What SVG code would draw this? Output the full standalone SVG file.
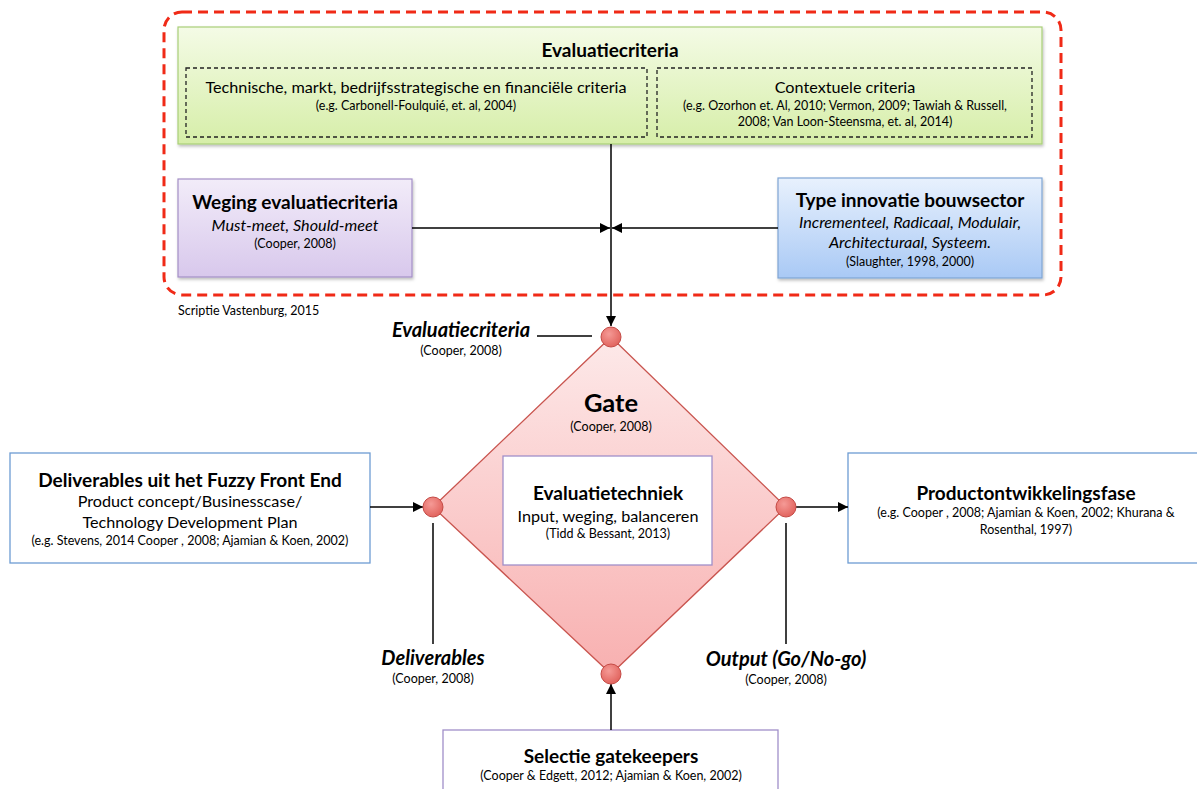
<svg xmlns="http://www.w3.org/2000/svg" width="1197" height="789" viewBox="0 0 1197 789">
<style>
text{font-family:Lato,"Open Sans","Liberation Sans",sans-serif;fill:#000;text-anchor:middle}
.b{font-weight:bold}
.i{font-style:italic}
.t{font-size:19px;font-weight:bold}
.L{font-size:20px;font-weight:bold;font-style:italic}
.m{font-size:16.2px}
.s{font-size:12.5px}
.ln{stroke:#000;stroke-width:1.5;fill:none}
.dash{fill:none;stroke:#222;stroke-width:1.3;stroke-dasharray:4 3}
.dot{stroke:#c44a45;stroke-width:1;fill:url(#gDot)}
</style>
<defs>
<linearGradient id="gGreen" x1="0" y1="0" x2="0" y2="1"><stop offset="0" stop-color="#f4fbe6"/><stop offset="1" stop-color="#d6eea8"/></linearGradient>
<linearGradient id="gPurple" x1="0" y1="0" x2="0" y2="1"><stop offset="0" stop-color="#f2ecf9"/><stop offset="1" stop-color="#d8c8ec"/></linearGradient>
<linearGradient id="gBlue" x1="0" y1="0" x2="0" y2="1"><stop offset="0" stop-color="#e8f1fd"/><stop offset="1" stop-color="#a9c9f5"/></linearGradient>
<linearGradient id="gDia" x1="0" y1="0" x2="0" y2="1"><stop offset="0" stop-color="#fde9e9"/><stop offset="1" stop-color="#f8b0b0"/></linearGradient>
<radialGradient id="gDot" cx="0.4" cy="0.35" r="0.7"><stop offset="0" stop-color="#f59a96"/><stop offset="1" stop-color="#e0605a"/></radialGradient>
<filter id="sh" x="-5%" y="-5%" width="110%" height="120%"><feDropShadow dx="1" dy="2" stdDeviation="1.5" flood-color="#000" flood-opacity="0.25"/></filter>
<marker id="ar" viewBox="0 0 10 10" refX="10" refY="5" markerWidth="10" markerHeight="10" markerUnits="userSpaceOnUse" orient="auto"><path d="M0,0 L10,5 L0,10 z" fill="#000"/></marker>
</defs>

<rect x="164" y="12" width="897" height="283" rx="18" ry="18" fill="none" stroke="#f02a17" stroke-width="3" stroke-dasharray="10 6"/>
<text class="s" x="178" y="315" style="text-anchor:start">Scriptie Vastenburg, 2015</text>

<g id="evaluatiecriteria">
<rect x="178" y="27" width="864" height="117" fill="url(#gGreen)" stroke="#a9cf79" stroke-width="1.2" filter="url(#sh)"/>
<text class="t" x="610" y="57">Evaluatiecriteria</text>
</g>
<g id="technische">
<rect class="dash" x="186" y="68" width="461" height="69"/>
<text class="m" x="416" y="93">Technische, markt, bedrijfsstrategische en financiële criteria</text>
<text class="s" x="416" y="110">(e.g. Carbonell-Foulquié, et. al, 2004)</text>
</g>
<g id="contextuele">
<rect class="dash" x="657" y="68" width="375" height="69"/>
<text class="m" x="845" y="93">Contextuele criteria</text>
<text class="s" x="845" y="110">(e.g. Ozorhon et. Al, 2010; Vermon, 2009; Tawiah &amp; Russell,</text>
<text class="s" x="845" y="126">2008; Van Loon-Steensma, et. al, 2014)</text>
</g>
<g id="weging">
<rect x="178" y="179" width="234" height="98" fill="url(#gPurple)" stroke="#a48fc6" stroke-width="1.2" filter="url(#sh)"/>
<text class="t" x="295" y="209">Weging evaluatiecriteria</text>
<text class="m i" x="295" y="231">Must-meet, Should-meet</text>
<text class="s" x="295" y="248">(Cooper, 2008)</text>
</g>
<g id="type">
<rect x="778" y="178" width="264" height="100" fill="url(#gBlue)" stroke="#7fa5d4" stroke-width="1.2" filter="url(#sh)"/>
<text class="t" x="910" y="207">Type innovatie bouwsector</text>
<text class="m i" x="910" y="228">Incrementeel, Radicaal, Modulair,</text>
<text class="m i" x="910" y="248">Architecturaal, Systeem.</text>
<text class="s" x="910" y="266">(Slaughter, 1998, 2000)</text>
</g>

<g id="gate">
<polygon points="611,337 786,507 611,674 433,507" fill="url(#gDia)" stroke="#c9554f" stroke-width="1.3"/>
<text class="b" style="font-size:25.5px" x="611" y="412">Gate</text>
<text class="s" x="611" y="431">(Cooper, 2008)</text>
</g>
<g id="evaluatietechniek">
<rect x="503" y="456" width="209" height="109" fill="#fff" stroke="#a08fc9" stroke-width="1.3"/>
<text class="t" x="608" y="500">Evaluatietechniek</text>
<text class="m" x="608" y="522">Input, weging, balanceren</text>
<text class="s" x="608" y="538">(Tidd &amp; Bessant, 2013)</text>
</g>
<g id="deliverables-ffe">
<rect x="10" y="453" width="360" height="110" fill="#fff" stroke="#6d9cd3" stroke-width="1.3"/>
<text class="t" x="190" y="487">Deliverables uit het Fuzzy Front End</text>
<text class="m" x="190" y="507">Product concept/Businesscase/</text>
<text class="m" x="190" y="528">Technology Development Plan</text>
<text class="s" x="190" y="545">(e.g. Stevens, 2014 Cooper , 2008; Ajamian &amp; Koen, 2002)</text>
</g>
<g id="productontwikkelingsfase">
<rect x="848" y="453" width="360" height="110" fill="#fff" stroke="#6d9cd3" stroke-width="1.3"/>
<text class="t" x="1026" y="500">Productontwikkelingsfase</text>
<text class="s" x="1026" y="517">(e.g. Cooper , 2008; Ajamian &amp; Koen, 2002; Khurana &amp;</text>
<text class="s" x="1026" y="534">Rosenthal, 1997)</text>
</g>
<g id="selectie">
<rect x="443" y="730" width="335" height="70" fill="#fff" stroke="#a08fc9" stroke-width="1.3"/>
<text class="t" x="611" y="763">Selectie gatekeepers</text>
<text class="s" x="611" y="780">(Cooper &amp; Edgett, 2012; Ajamian &amp; Koen, 2002)</text>
</g>

<g id="labels">
<text class="L" x="461" y="337">Evaluatiecriteria</text>
<text class="s" x="461" y="355">(Cooper, 2008)</text>
<text class="L" x="433" y="665">Deliverables</text>
<text class="s" x="433" y="683">(Cooper, 2008)</text>
<text class="L" x="786" y="666">Output (Go/No-go)</text>
<text class="s" x="786" y="684">(Cooper, 2008)</text>
</g>

<g id="connectors">
<line class="ln" x1="611" y1="144" x2="611" y2="326" marker-end="url(#ar)"/>
<line class="ln" x1="412" y1="228" x2="610" y2="228" marker-end="url(#ar)"/>
<line class="ln" x1="778" y1="228" x2="612" y2="228" marker-end="url(#ar)"/>
<line class="ln" x1="370" y1="507" x2="423" y2="507" marker-end="url(#ar)"/>
<line class="ln" x1="796" y1="507" x2="848" y2="507" marker-end="url(#ar)"/>
<line class="ln" x1="611" y1="730" x2="611" y2="684" marker-end="url(#ar)"/>
<line class="ln" x1="537" y1="336" x2="592" y2="336"/>
<line class="ln" x1="433" y1="523" x2="433" y2="644"/>
<line class="ln" x1="786" y1="523" x2="786" y2="644"/>
</g>

<g id="ports">
<circle class="dot" cx="611" cy="337" r="10"/>
<circle class="dot" cx="433" cy="507" r="10"/>
<circle class="dot" cx="786" cy="507" r="10"/>
<circle class="dot" cx="611" cy="674" r="10"/>
</g>
</svg>
